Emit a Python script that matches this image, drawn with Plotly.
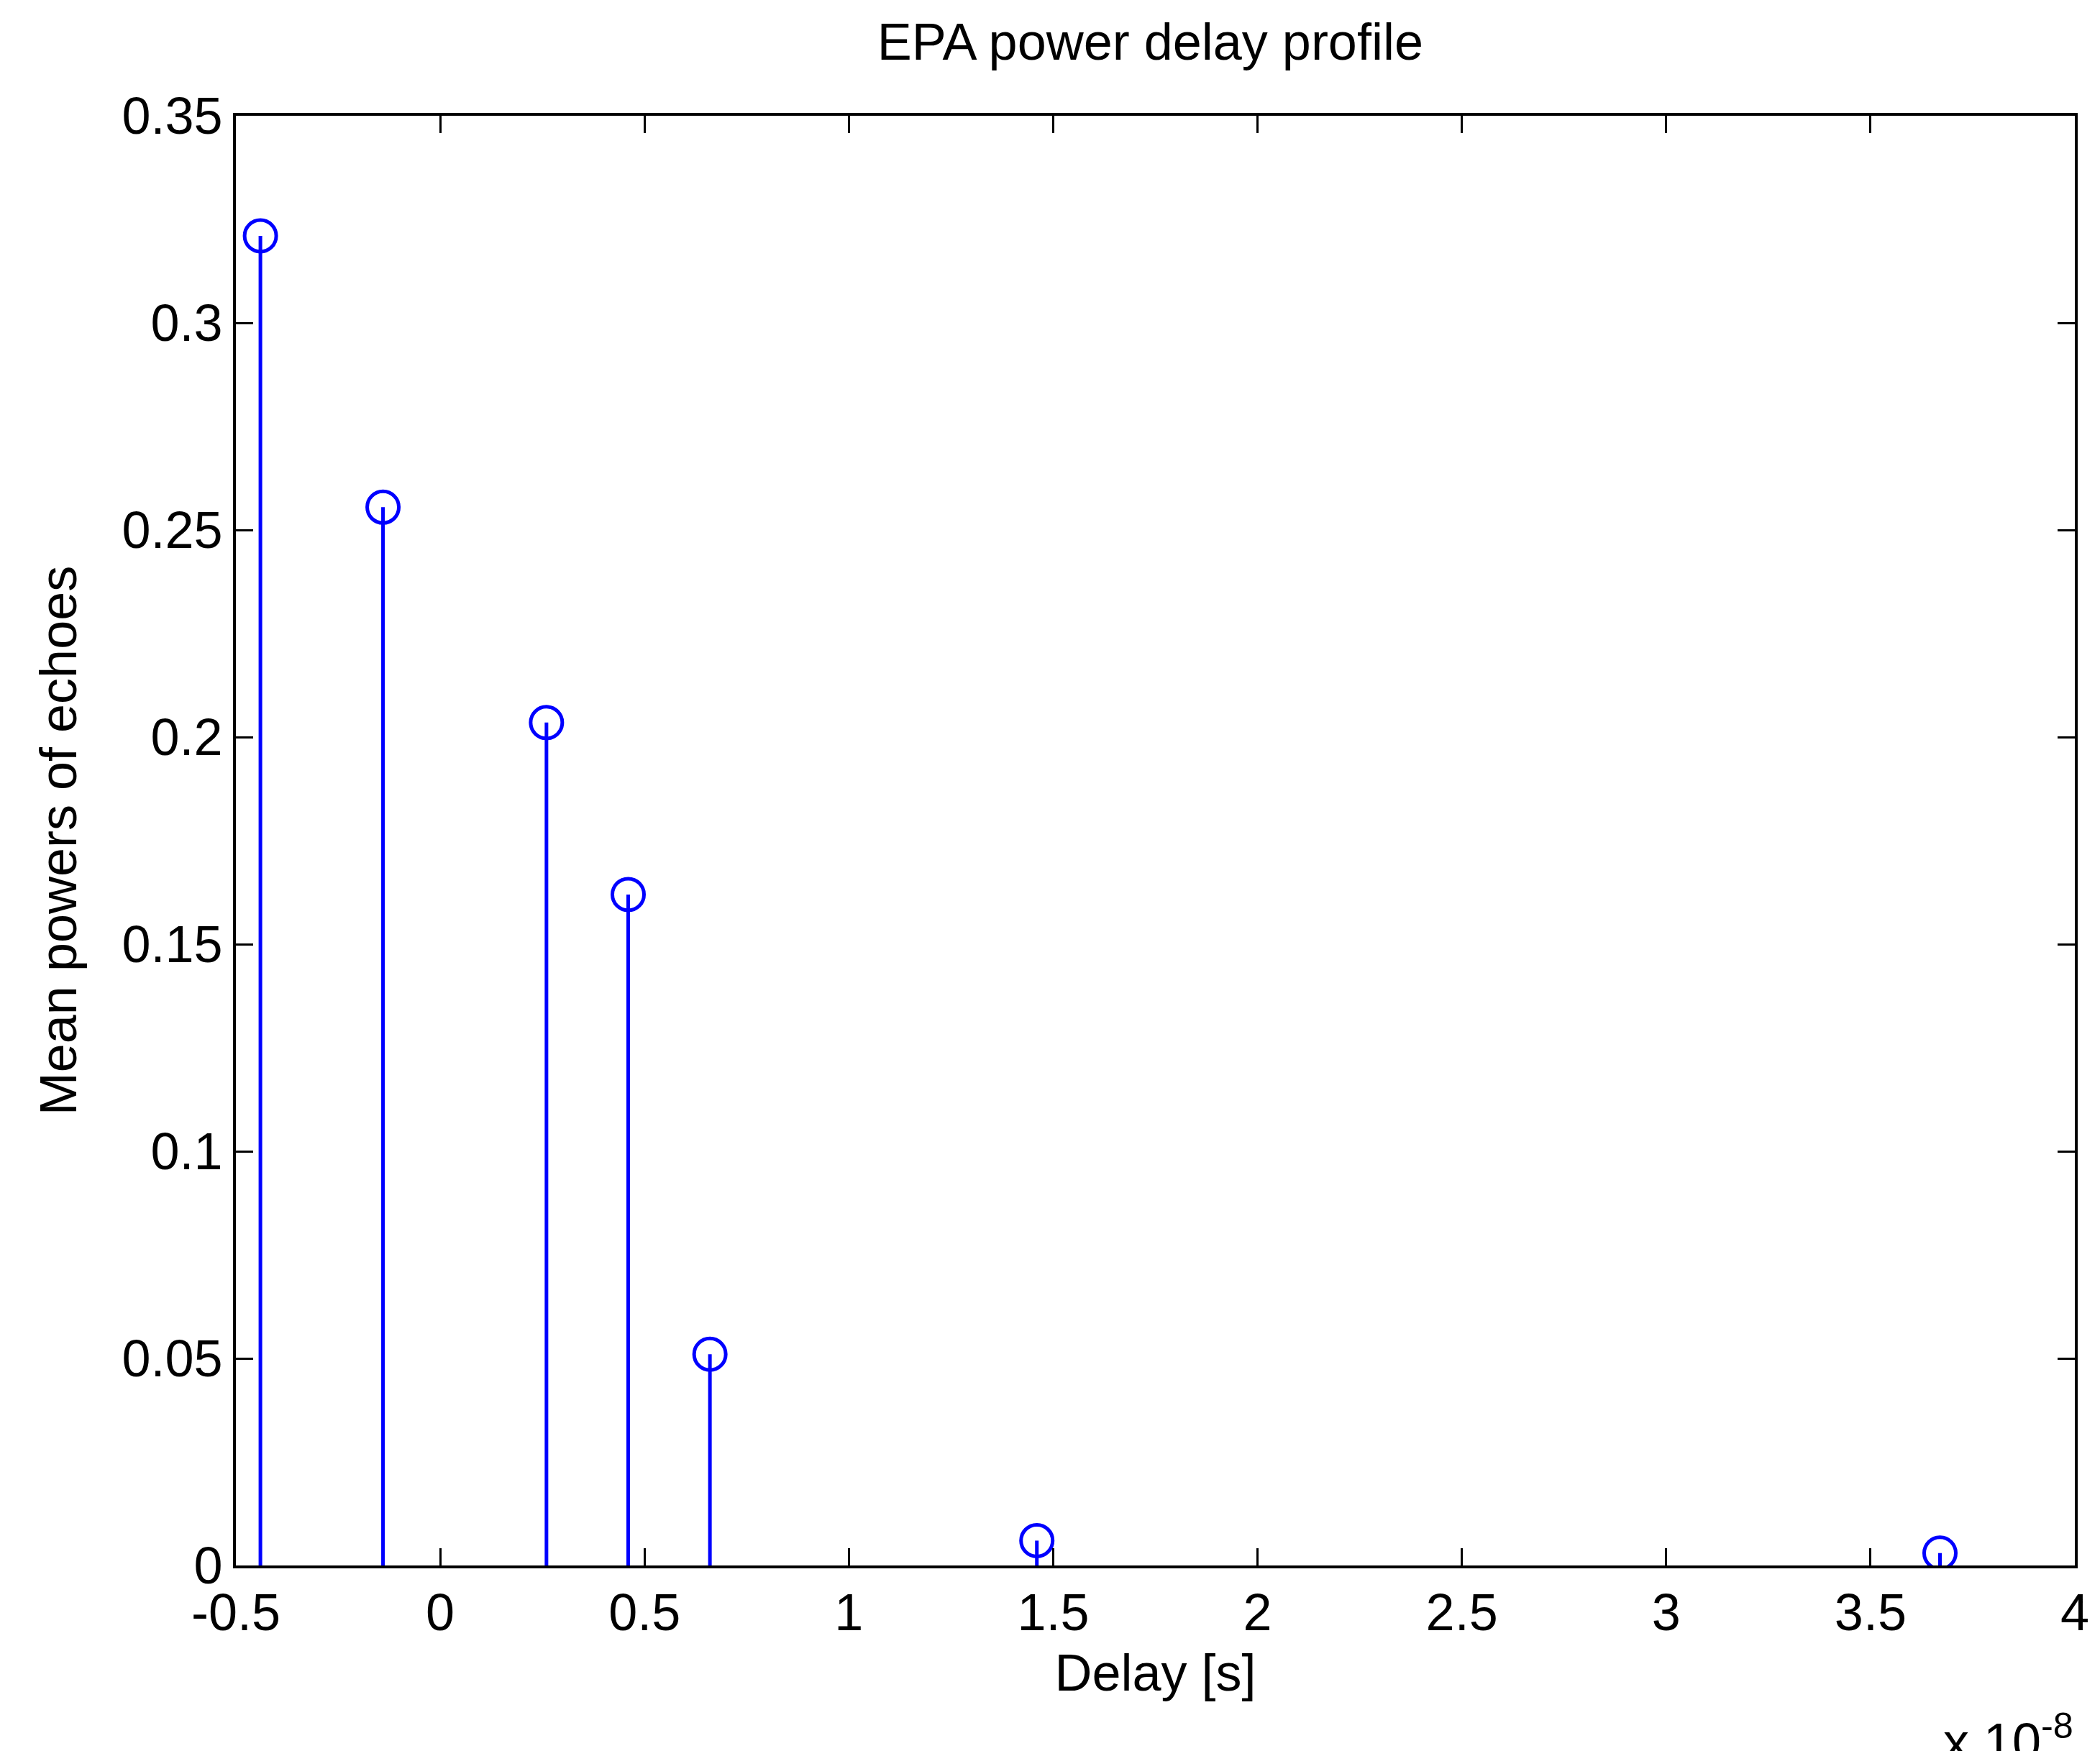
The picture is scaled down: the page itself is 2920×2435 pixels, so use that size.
import plotly.graph_objects as go

delay_e8 = [-0.44, -0.14, 0.26, 0.46, 0.66, 1.46, 3.67]
power = [0.321, 0.2555, 0.2035, 0.162, 0.051, 0.006, 0.003]
xticks = [-0.5, 0, 0.5, 1, 1.5, 2, 2.5, 3, 3.5, 4]
yticks = [0, 0.05, 0.1, 0.15, 0.2, 0.25, 0.3, 0.35]

sx, sy = [], []
for x, y in zip(delay_e8, power):
    sx += [x, x, None]
    sy += [0, y, None]

fig = go.Figure()
fig.add_trace(go.Scatter(x=sx, y=sy, mode="lines", line=dict(color="#0000ff", width=5), hoverinfo="skip"))
fig.add_trace(go.Scatter(x=delay_e8, y=power, mode="markers",
                         marker=dict(symbol="circle-open", size=44, color="#0000ff", line=dict(width=5))))

font = dict(family="Liberation Sans, Arial", size=72, color="black")
axis = dict(showgrid=False, zeroline=False, showline=True, linecolor="black", linewidth=4,
            mirror="ticks", ticks="inside", ticklen=24, tickwidth=3, tickcolor="black", tickfont=font)
fig.update_xaxes(range=[-0.5, 4], tickvals=xticks, ticktext=[str(t) for t in xticks],
                 title=dict(text="Delay [s]", font=font, standoff=20), **axis)
fig.update_yaxes(range=[0, 0.35], tickvals=yticks, ticktext=[f"{t:g}" for t in yticks],
                 title=dict(text="Mean powers of echoes", font=font, standoff=40), **axis)
fig.add_annotation(text="x 10<sup>-8</sup>", xref="paper", yref="paper", x=1.0, y=-0.095,
                   xanchor="right", yanchor="top", showarrow=False, font=font)
fig.update_layout(width=2920, height=2435, showlegend=False, plot_bgcolor="white", paper_bgcolor="white",
                  margin=dict(l=320, r=43, t=153, b=266),
                  title=dict(text="EPA power delay profile", x=0.545, xanchor="center", y=0.99, yanchor="top", font=font))
fig.write_html("out.html")
